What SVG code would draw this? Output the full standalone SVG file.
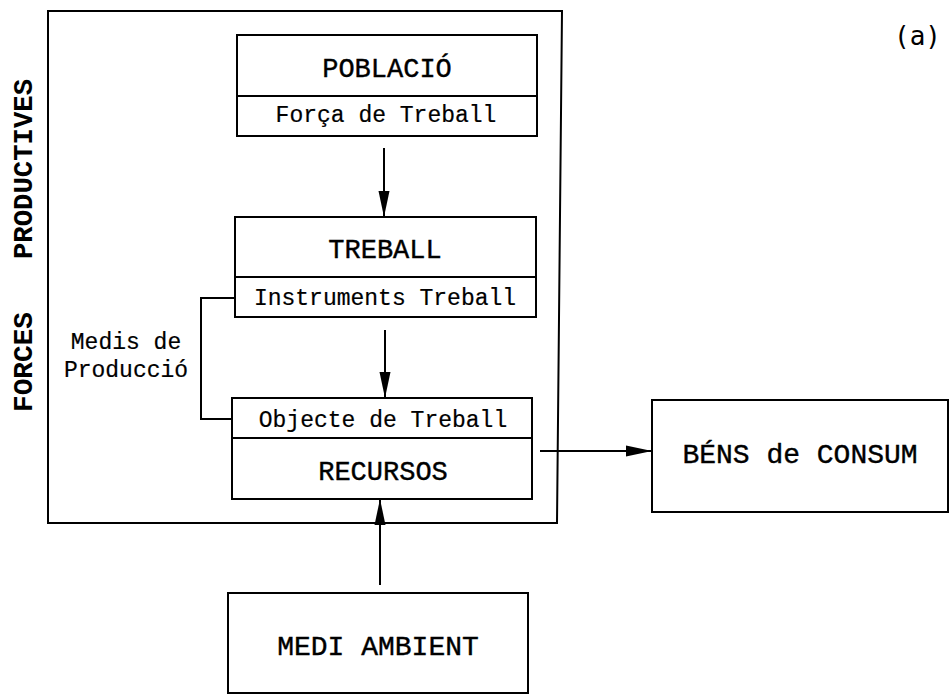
<svg xmlns="http://www.w3.org/2000/svg" width="952" height="698" viewBox="0 0 952 698">
<style>
.box{fill:none;stroke:#000;stroke-width:2}
.ln{fill:none;stroke:#000;stroke-width:2}
.big{font-family:"Liberation Mono","Courier New",monospace;font-size:27px;fill:#000;stroke:#000;stroke-width:0.4;text-anchor:middle}
.sm{font-family:"Liberation Mono","Courier New",monospace;font-size:23px;fill:#000;stroke:#000;stroke-width:0.2;text-anchor:middle}
.side{font-family:"Liberation Mono","Courier New",monospace;font-size:27px;font-weight:bold;fill:#000}
</style>
<defs>
<marker id="ah" viewBox="0 0 26 12" refX="26" refY="6" markerWidth="26" markerHeight="12" orient="auto" markerUnits="userSpaceOnUse">
<path d="M0,0.5 L26,6 L0,11.5 Z" fill="#000"/>
</marker>
</defs>
<rect width="952" height="698" fill="#fff"/>
<g id="forces-productives">
<path class="box" d="M48,11 L562,11 L557,523 L48,523 Z"/>
<text class="side" transform="translate(32,412) rotate(-90)" textLength="100" lengthAdjust="spacingAndGlyphs">FORCES</text>
<text class="side" transform="translate(32,259) rotate(-90)" textLength="180" lengthAdjust="spacingAndGlyphs">PRODUCTIVES</text>
</g>
<g id="label-a">
<text x="894" y="45" font-family="'DejaVu Sans Mono','Liberation Mono',monospace" font-size="26" fill="#000">(a)</text>
</g>
<g id="poblacio">
<rect class="box" x="237" y="35" width="300" height="101"/>
<line class="ln" x1="237" y1="96" x2="537" y2="96"/>
<text class="big" x="387" y="77">POBLACIÓ</text>
<text class="sm" x="386" y="122">Força de Treball</text>
</g>
<g id="treball">
<rect class="box" x="235" y="217" width="301" height="100"/>
<line class="ln" x1="235" y1="277" x2="536" y2="277"/>
<text class="big" x="385" y="258">TREBALL</text>
<text class="sm" x="385" y="305">Instruments Treball</text>
</g>
<g id="recursos">
<rect class="box" x="232" y="398" width="300" height="101"/>
<line class="ln" x1="232" y1="438" x2="532" y2="438"/>
<text class="sm" x="383" y="427">Objecte de Treball</text>
<text class="big" x="383" y="480">RECURSOS</text>
</g>
<g id="medis-produccio">
<text class="sm" x="126" y="349">Medis de</text>
<text class="sm" x="126" y="377">Producció</text>
</g>
<g id="bens-consum">
<rect class="box" x="652" y="400" width="296" height="112"/>
<text class="big" x="800" y="463" style="font-size:28px">BÉNS de CONSUM</text>
</g>
<g id="medi-ambient">
<rect class="box" x="228" y="593" width="300" height="100"/>
<text class="big" x="378" y="655" style="font-size:28px">MEDI AMBIENT</text>
</g>
<g id="connectors">
<line class="ln" x1="384" y1="148" x2="384" y2="217" marker-end="url(#ah)"/>
<line class="ln" x1="385" y1="330" x2="385" y2="398" marker-end="url(#ah)"/>
<line class="ln" x1="540" y1="451" x2="652" y2="451" marker-end="url(#ah)"/>
<line class="ln" x1="380" y1="585" x2="380" y2="499" marker-end="url(#ah)"/>
<polyline class="ln" points="235,298 201,298 201,419 232,419"/>
</g>
</svg>
